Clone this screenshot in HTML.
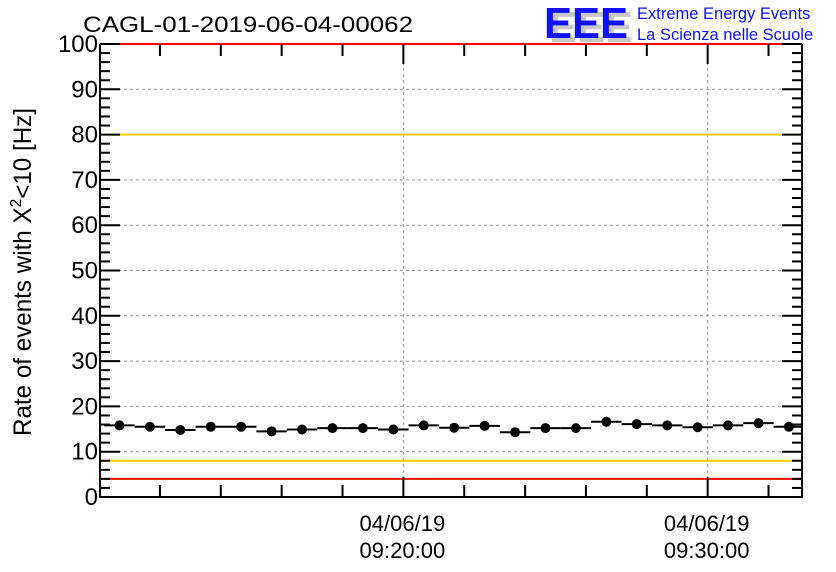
<!DOCTYPE html>
<html><head><meta charset="utf-8"><style>
body{margin:0;background:#fff}
svg{display:block;font-family:"Liberation Sans",sans-serif}
</style></head><body>
<svg id="c" width="836" height="572">
<rect width="836" height="572" fill="#fff"/>
<text x="83" y="32" font-size="22" textLength="330" lengthAdjust="spacingAndGlyphs">CAGL-01-2019-06-04-00062</text>
<g>
<text x="549" y="42" font-size="44" font-weight="bold" fill="#c8c8c8" textLength="84" lengthAdjust="spacingAndGlyphs">EEE</text>
<text x="544" y="38" font-size="44" font-weight="bold" fill="#1010ff" textLength="84" lengthAdjust="spacingAndGlyphs">EEE</text>
<text x="637" y="19" font-size="16.5" fill="#1010ff">Extreme Energy Events</text>
<text x="637" y="40" font-size="16.5" fill="#1010ff">La Scienza nelle Scuole</text>
</g>
<text transform="translate(31,272) rotate(-90)" text-anchor="middle" font-size="25" textLength="328" lengthAdjust="spacingAndGlyphs">Rate of events with X<tspan dy="-10" font-size="16">2</tspan><tspan dy="10">&lt;10 [Hz]</tspan></text>
<g id="grid"></g><g id="axes"></g><g id="marks"></g>
</svg>
<script>
const binMinutes=[-9.33,-8.33,-7.33,-6.33,-5.33,-4.33,-3.33,-2.33,-1.33,-0.33,0.67,1.67,2.67,3.67,4.67,5.67,6.67,7.67,8.67,9.67,10.67,11.67,12.67];
const rates=[15.8,15.5,14.8,15.5,15.5,14.5,14.9,15.2,15.2,14.9,15.8,15.3,15.7,14.3,15.2,15.2,16.6,16.1,15.8,15.4,15.8,16.3,15.5];
const yTicks=[0,10,20,30,40,50,60,70,80,90,100];
const xTickMinutes=[0,10];
const xTickLabels=[["04/06/19","09:20:00"],["04/06/19","09:30:00"]];
const redLines=[4,100];
const yellowLines=[8,80];
const L=100,R=802,T=44,B=497,xMin=-9.97,xMax=13.1;
const X=m=>L+(m-xMin)/(xMax-xMin)*(R-L);
const Y=v=>B-v/100*(B-T);
const NS="http://www.w3.org/2000/svg";
function mk(p,t,a){const e=document.createElementNS(NS,t);for(const k in a)e.setAttribute(k,a[k]);document.getElementById(p).appendChild(e);return e;}
yTicks.forEach(v=>{if(v>0&&v<100){const g=mk('grid','line',{x1:L,x2:R,y1:Y(v),y2:Y(v),stroke:'#999','stroke-dasharray':'3,3'});

}});
xTickMinutes.forEach(m=>{const g=mk('grid','line',{x1:X(m),x2:X(m),y1:T,y2:B,stroke:'#999','stroke-dasharray':'3,3'});

});
yellowLines.forEach(v=>{const e=mk('grid','line',{x1:L,x2:R,y1:Y(v),y2:Y(v),stroke:'#ffcc00','stroke-width':2});

});
const fr=mk('axes','path',{d:`M${L},${T}V${B}H${R}V${T}`,fill:'none',stroke:'#000','stroke-width':2});


redLines.forEach(v=>{const e=mk('axes','line',{x1:L,x2:R,y1:Y(v),y2:Y(v),stroke:'#ff0000','stroke-width':2});

});
for(let v=0;v<=100;v+=2){const len=v%10==0?20:10;
mk('axes','line',{x1:L,x2:L+len,y1:Y(v),y2:Y(v),stroke:'#000','stroke-width':2});
mk('axes','line',{x1:R-len,x2:R,y1:Y(v),y2:Y(v),stroke:'#000','stroke-width':2});}
yTicks.forEach(v=>{const t=mk('axes','text',{x:L-2,y:Y(v)+8,'text-anchor':'end','font-size':24});t.textContent=v;

});
for(let m=-8;m<=12;m+=2){const len=m%10==0?20:12;
mk('axes','line',{x1:X(m),x2:X(m),y1:B,y2:B-len,stroke:'#000','stroke-width':2});
mk('axes','line',{x1:X(m),x2:X(m),y1:T,y2:T+len,stroke:'#000','stroke-width':2});}
xTickMinutes.forEach((m,i)=>{xTickLabels[i].forEach((s,j)=>{const t=mk('axes','text',{x:X(m)-1,y:531+j*27,'text-anchor':'middle','font-size':22});t.textContent=s;

});});
binMinutes.forEach((m,i)=>{
const h=mk('marks','line',{x1:Math.max(L,X(m-0.5)),x2:Math.min(R,X(m+0.5)),y1:Y(rates[i]),y2:Y(rates[i]),stroke:'#000','stroke-width':2});


const c=mk('marks','circle',{cx:X(m),cy:Y(rates[i]),r:5,fill:'#000'});

});
</script>
</body></html>
